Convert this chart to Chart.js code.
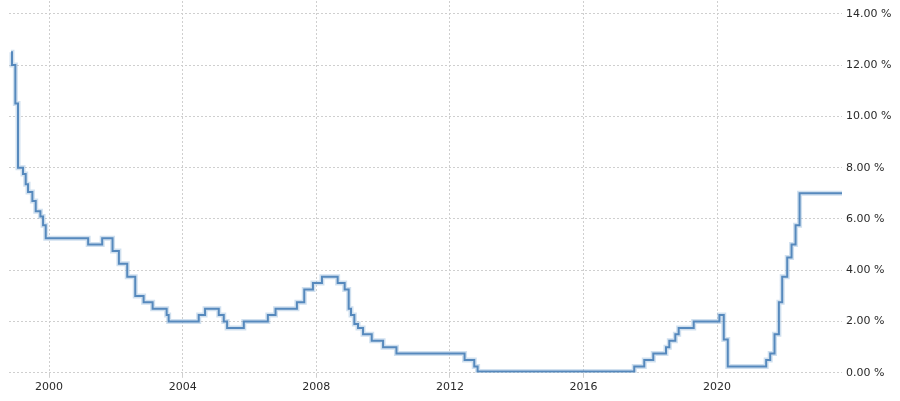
<!DOCTYPE html>
<html>
<head>
<meta charset="utf-8">
<script src="https://cdn.jsdelivr.net/npm/chart.js@4/dist/chart.umd.min.js"></script>
<style>
    html, body { margin: 0; padding: 0; background: #fff; }
    #wrap { width: 900px; height: 401px; }
</style>
</head>
<body>
<div id="wrap"><canvas id="chart"></canvas></div>
<script>
// change dates (decimal years) and the new rate from each date on
const dates = [
    1998.86, 1998.89, 1998.99, 1999.07, 1999.22, 1999.30, 1999.37, 1999.50, 1999.60, 1999.74, 1999.82, 1999.90,
    2001.17, 2001.59, 2001.90, 2002.09, 2002.34, 2002.58, 2002.83, 2003.10, 2003.52, 2003.58,
    2004.48, 2004.67, 2005.08, 2005.23, 2005.33, 2005.83, 2006.55, 2006.78,
    2007.42, 2007.64, 2007.90, 2008.17, 2008.64, 2008.85, 2008.97, 2009.04, 2009.14, 2009.25, 2009.40, 2009.66,
    2010.00, 2010.40, 2012.44, 2012.73, 2012.83,
    2017.52, 2017.82, 2018.09, 2018.47, 2018.57, 2018.75, 2018.85, 2019.30,
    2020.07, 2020.20, 2020.32, 2021.47, 2021.59, 2021.72, 2021.85, 2021.95,
    2022.10, 2022.23, 2022.35, 2022.47, 2023.74
];
const rates = [
    12.5, 12.0, 10.5, 8.0, 7.75, 7.35, 7.05, 6.7, 6.3, 6.1, 5.75, 5.25,
    5.0, 5.25, 4.75, 4.25, 3.75, 3.0, 2.75, 2.5, 2.25, 2.0,
    2.25, 2.5, 2.25, 2.0, 1.75, 2.0, 2.25, 2.5,
    2.75, 3.25, 3.5, 3.75, 3.5, 3.25, 2.5, 2.25, 1.9, 1.75, 1.5, 1.25,
    1.0, 0.75, 0.5, 0.25, 0.05,
    0.25, 0.5, 0.75, 1.0, 1.25, 1.5, 1.75, 2.0,
    2.25, 1.3, 0.25, 0.5, 0.75, 1.5, 2.75, 3.75,
    4.5, 5.0, 5.75, 7.0, 7.0
];
const yearTicks = [2000, 2004, 2008, 2012, 2016, 2020];
const rateTicks = [0, 2, 4, 6, 8, 10, 12, 14];

const points = dates.map((d, i) => ({ x: d, y: rates[i] }));

const gridColor = '#cfcfcf';
const labelFont = { family: 'DejaVu Sans', size: 11 };

new Chart(document.getElementById('chart'), {
    type: 'line',
    data: {
        datasets: [
            {
                data: points,
                stepped: true,
                borderColor: 'rgba(120,165,210,0.35)',
                borderWidth: 5,
                pointRadius: 0,
                fill: false
            },
            {
                data: points,
                stepped: true,
                borderColor: 'rgb(68,122,178)',
                borderWidth: 2,
                pointRadius: 0,
                fill: false
            }
        ]
    },
    options: {
        responsive: true,
        maintainAspectRatio: false,
        animation: false,
        layout: { padding: { left: 9, top: 1, right: 0, bottom: 4 } },
        plugins: { legend: { display: false }, tooltip: { enabled: false } },
        scales: {
            x: {
                type: 'linear',
                min: 1998.80,
                max: 2023.74,
                afterBuildTicks: (scale) => { scale.ticks = yearTicks.map(v => ({ value: v })); },
                grid: { color: gridColor, tickLength: 5, tickColor: gridColor },
                border: { display: false, dash: [2, 2] },
                ticks: {
                    color: '#2a2a2a',
                    font: labelFont,
                    padding: 3,
                    maxRotation: 0,
                    callback: (v) => String(v)
                }
            },
            y: {
                position: 'right',
                min: 0,
                max: 14.5,
                afterBuildTicks: (scale) => { scale.ticks = rateTicks.map(v => ({ value: v })); },
                afterFit: (scale) => {
                    scale.width = 58;
                    scale.paddingTop = 0;
                    scale.paddingBottom = 0;
                },
                grid: { color: gridColor, drawTicks: false },
                border: { display: false, dash: [2, 2] },
                ticks: {
                    color: '#2a2a2a',
                    font: labelFont,
                    padding: 4,
                    callback: (v) => v.toFixed(2) + ' %'
                }
            }
        }
    }
});
</script>
</body>
</html>
